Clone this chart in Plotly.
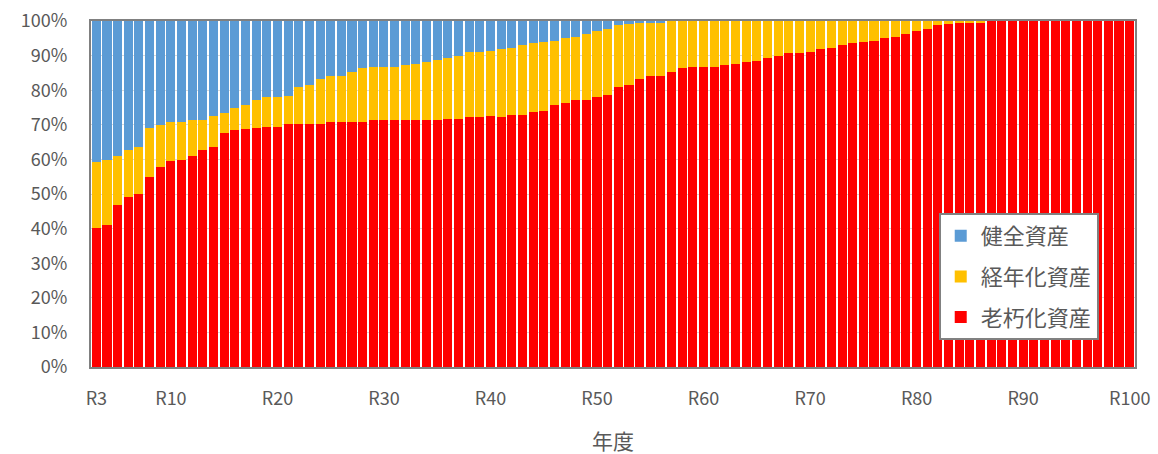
import plotly.graph_objects as go

years = [f"R{i}" for i in range(3, 101)]

# 老朽化資産 share (%)
rokyu = [40.1, 40.9, 46.9, 49.1, 49.9, 54.8, 57.7, 59.4, 59.9, 60.9,
         62.6, 63.5, 67.7, 68.4, 68.7, 69.0, 69.3, 69.3, 70.1, 70.1,
         70.1, 70.1, 70.9, 70.9, 70.9, 70.9, 71.3, 71.3, 71.3, 71.3,
         71.3, 71.3, 71.3, 71.6, 71.8, 72.4, 72.4, 72.5, 72.4, 72.8,
         72.8, 73.6, 74.1, 75.6, 76.4, 77.1, 77.3, 77.9, 78.5, 80.8,
         81.6, 83.3, 84.1, 84.1, 85.3, 86.5, 86.8, 86.8, 86.8, 87.3,
         87.7, 88.2, 88.5, 89.3, 89.9, 90.8, 90.8, 91.1, 91.9, 92.2,
         93.0, 93.5, 93.9, 94.2, 95.0, 95.5, 96.3, 97.2, 97.8, 98.9,
         99.2, 99.3, 99.6, 99.6, 100, 100, 100, 100, 100, 100,
         100, 100, 100, 100, 100, 100, 100, 100]

# 経年化資産 share (%)
keinen = [19.1, 19.0, 14.2, 13.6, 13.6, 14.4, 12.3, 11.5, 11.0, 10.6,
          8.9, 9.0, 5.6, 6.4, 6.9, 8.2, 8.6, 8.6, 8.3, 10.7,
          11.5, 13.2, 13.2, 13.2, 14.4, 15.6, 15.5, 15.5, 15.5, 16.0,
          16.4, 16.9, 17.5, 17.7, 18.2, 18.5, 18.5, 18.7, 19.6, 19.5,
          20.2, 19.9, 19.8, 18.7, 18.6, 18.4, 19.0, 19.3, 19.3, 18.1,
          17.6, 16.1, 15.6, 15.6, 14.7, 13.5, 13.2, 13.2, 13.2, 12.7,
          12.3, 11.8, 11.5, 10.7, 10.1, 9.2, 9.2, 8.9, 8.1, 7.8,
          7.0, 6.5, 6.1, 5.8, 5.0, 4.5, 3.7, 2.8, 2.2, 1.1,
          0.8, 0.7, 0.4, 0.4, 0, 0, 0, 0, 0, 0,
          0, 0, 0, 0, 0, 0, 0, 0]

# 健全資産 share (%)
kenzen = [round(100 - a - b, 1) for a, b in zip(rokyu, keinen)]

tick_labels = ["R3", "R10", "R20", "R30", "R40", "R50", "R60", "R70", "R80", "R90", "R100"]

font_family = "Noto Sans CJK JP, Noto Sans, sans-serif"
grey = "#595959"

fig = go.Figure()
fig.add_trace(go.Bar(x=years, y=rokyu, name="老朽化資産", marker_color="#FF0000",
                     marker_line_width=0, legendrank=3, legendgroup="g3"))
fig.add_trace(go.Bar(x=years, y=keinen, name="経年化資産", marker_color="#FFC000",
                     marker_line_width=0, legendrank=2, legendgroup="g2"))
fig.add_trace(go.Bar(x=years, y=kenzen, name="健全資産", marker_color="#5B9BD5",
                     marker_line_width=0, legendrank=1, legendgroup="g1"))

fig.update_layout(
    width=1158, height=454,
    barmode="stack", bargap=0.15,
    margin=dict(l=91, r=23, t=21, b=87),
    plot_bgcolor="white", paper_bgcolor="white",
    font=dict(family=font_family, size=18, color=grey),
    legend=dict(
        x=0.812, y=0.445, xanchor="left", yanchor="top",
        bgcolor="white", bordercolor="#808080", borderwidth=2,
        font=dict(size=22, color=grey),
        traceorder="grouped", tracegroupgap=9, itemwidth=30,
    ),
    xaxis=dict(
        tickmode="array", tickvals=tick_labels, ticktext=tick_labels,
        showline=True, linecolor="#808080", linewidth=2, mirror=True,
        showgrid=False, ticks="", ticklabelstandoff=14, automargin=False,
    ),
    yaxis=dict(
        range=[0, 100], tickvals=list(range(0, 101, 10)),
        ticktext=[f"{v}%" for v in range(0, 101, 10)],
        showline=True, linecolor="#808080", linewidth=2, mirror=True,
        showgrid=True, gridcolor="#d9d9d9", ticks="", zeroline=False,
        ticklabelstandoff=18, automargin=False,
    ),
    annotations=[dict(
        text="年度", xref="paper", yref="paper", x=0.5, y=-0.212,
        xanchor="center", yanchor="middle", showarrow=False,
        font=dict(size=21, color=grey),
    )],
)

fig.write_html("out.html")
